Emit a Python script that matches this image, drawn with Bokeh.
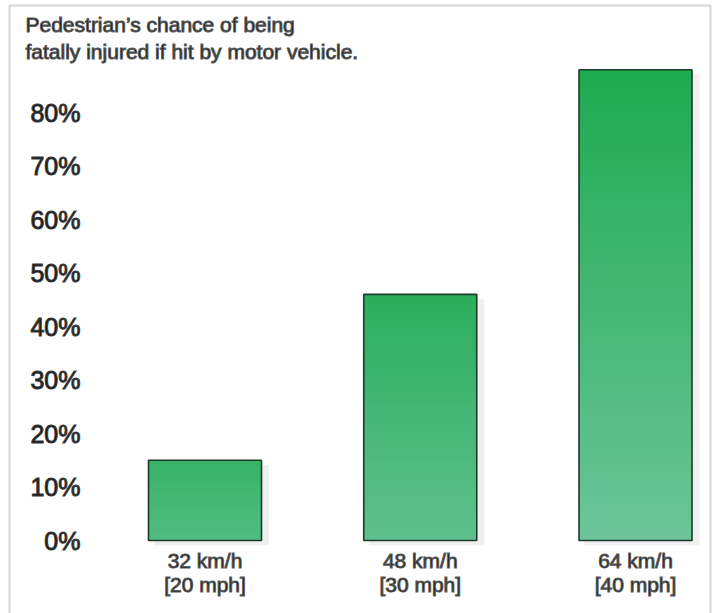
import numpy as np
from bokeh.plotting import figure
from bokeh.models import (Range1d, FixedTicker, PrintfTickFormatter, Label,
                          BoxAnnotation, ColumnDataSource)
from bokeh.embed import file_html
from bokeh.resources import INLINE

# ---- data ----
speeds_kmh = ["32 km/h", "48 km/h", "64 km/h"]
speeds_mph = ["[20 mph]", "[30 mph]", "[40 mph]"]
fatality_pct = [15, 46, 88]
y_ticks = [0, 10, 20, 30, 40, 50, 60, 70, 80]
title_text = "Pedestrian\u2019s chance of being\nfatally injured if hit by motor vehicle."

positions = list(range(len(fatality_pct)))
tick_labels = {i: f"{k}\n{m}" for i, (k, m) in enumerate(zip(speeds_kmh, speeds_mph))}

# ---- layout / styles ----
W, H = 717, 613
PX_PER_X = 215.25      # pixels per category step
X0_PX = 204.5          # pixel of first category
PX_PER_Y = 5.35        # pixels per percent
Y0_PX = 540.0          # pixel of 0 %

def px_x(px):
    return (px - X0_PX) / PX_PER_X

def px_y(py):
    return (Y0_PX - py) / PX_PER_Y

BAR_W = 0.525
DARK = np.array([30, 170, 80])
LIGHT = np.array([108, 197, 154])
FONT = "Liberation Sans"
TXT = "#151515"
OUTLINE_Y = "#3a3a3a"
OUTLINE_T = "#5a5a5a"

p = figure(width=W, height=H, output_backend="svg", toolbar_location=None,
           x_range=Range1d(px_x(0), px_x(W)), y_range=Range1d(px_y(H), px_y(0)),
           min_border=0)
p.outline_line_color = None
p.xgrid.visible = False
p.ygrid.visible = False
p.background_fill_color = "white"
p.border_fill_color = "white"

# shadows
vmax = max(fatality_pct)
p.quad(left=[x - BAR_W / 2 + 0.025 for x in positions],
       right=[x + BAR_W / 2 + 0.035 for x in positions],
       bottom=[-0.9] * len(positions),
       top=[v - 0.9 for v in fatality_pct],
       fill_color="#f0f0f0", line_color=None)

# gradient bars (stacked slices)
N = 80
L, R, B, T, C = [], [], [], [], []
for x, h in zip(positions, fatality_pct):
    scale = (h / vmax) ** 0.6
    for k in range(N):
        b = h * k / N
        t = min(h, h * (k + 1) / N + 0.2)
        s = 1 - (k + 0.5) / N  # 0 at top, 1 at bottom
        tc = 0.5 + (s - 0.5) * scale
        col = DARK + (LIGHT - DARK) * tc
        L.append(x - BAR_W / 2); R.append(x + BAR_W / 2)
        B.append(b); T.append(t)
        C.append("#%02x%02x%02x" % tuple(int(round(c)) for c in col))
src = ColumnDataSource(dict(left=L, right=R, bottom=B, top=T, color=C))
p.quad(left="left", right="right", bottom="bottom", top="top",
       fill_color="color", line_color=None, source=src)

# outlines
p.vbar(x=positions, width=BAR_W, bottom=0, top=fatality_pct,
       fill_color=None, line_color="#1d3a2a", line_width=1.6)

# y axis (drawn inside the canvas at a fixed location)
ya = p.yaxis[0]
ya.fixed_location = px_x(90)
ya.ticker = FixedTicker(ticks=y_ticks)
ya.formatter = PrintfTickFormatter(format="%d%%")
ya.axis_line_color = None
ya.major_tick_line_color = None
ya.minor_tick_line_color = None
ya.major_tick_out = 0
ya.major_tick_in = 0
ya.minor_tick_out = 0
ya.major_label_standoff = 10
ya.major_label_text_font = FONT
ya.major_label_text_font_size = "25px"
ya.major_label_text_color = TXT
ya.major_label_text_outline_color = OUTLINE_Y

# x axis
xa = p.xaxis[0]
xa.fixed_location = 0
xa.ticker = FixedTicker(ticks=positions)
xa.major_label_overrides = tick_labels
xa.axis_line_color = None
xa.major_tick_line_color = None
xa.minor_tick_line_color = None
xa.major_tick_out = 0
xa.major_tick_in = 0
xa.minor_tick_out = 0
xa.major_label_standoff = 8
xa.major_label_text_font = FONT
xa.major_label_text_font_size = "21px"
xa.major_label_text_color = TXT
xa.major_label_text_line_height = 1.05
xa.major_label_text_outline_color = OUTLINE_T

# title
p.add_layout(Label(x=px_x(25), y=px_y(12), text=title_text,
                   text_font=FONT, text_font_size="21px",
                   text_color=TXT, text_baseline="top", text_line_height=1.18,
                   text_outline_color=OUTLINE_T))

# picture frame border (top, left, right)
p.add_layout(BoxAnnotation(left=px_x(9), right=px_x(710), top=px_y(5), bottom=px_y(H + 20),
                           fill_color=None, line_color="#707070", line_width=2))

open("out.html", "w").write(file_html(p, INLINE))
